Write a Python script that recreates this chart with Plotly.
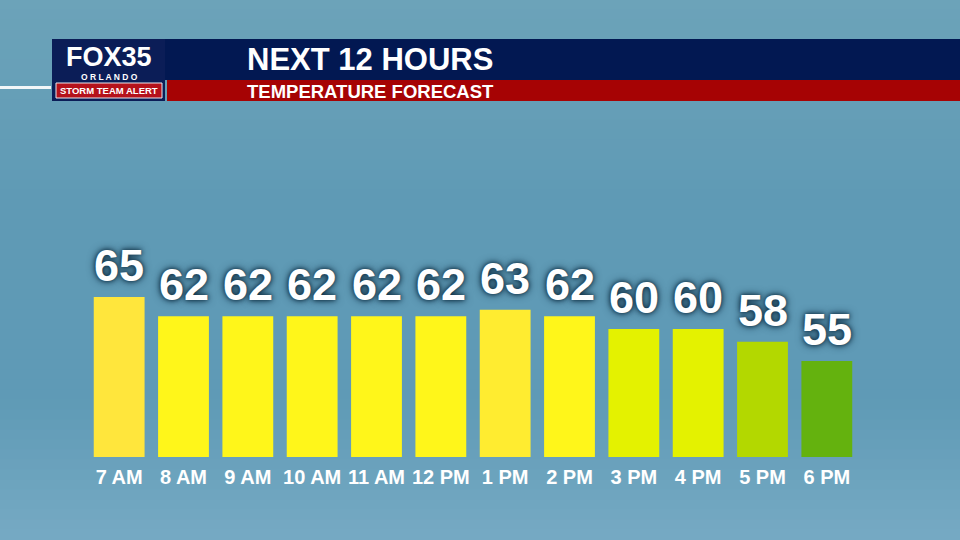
import plotly.graph_objects as go

hours = ["7 AM", "8 AM", "9 AM", "10 AM", "11 AM", "12 PM", "1 PM", "2 PM", "3 PM", "4 PM", "5 PM", "6 PM"]
temps = [65, 62, 62, 62, 62, 62, 63, 62, 60, 60, 58, 55]
bar_colors = ["#FFE63C", "#FFF61A", "#FFF61A", "#FFF61A", "#FFF61A", "#FFF61A",
              "#FFEC30", "#FFF61A", "#E4F200", "#E4F200", "#B3D800", "#64B20E"]

title_text = "NEXT 12 HOURS"
subtitle_text = "TEMPERATURE FORECAST"

layout_w, layout_h = 960, 540
ml, mr, mt, mb = 87, 101, 105, 83
pw = layout_w - ml - mr
ph = layout_h - mt - mb


def px_x(x):
    return (x - ml) / pw


def px_y(y):
    return 1 - (y - mt) / ph


fig = go.Figure()
fig.add_trace(go.Bar(
    x=hours, y=temps,
    marker=dict(color=bar_colors, line=dict(width=0)),
    width=0.79,
    hoverinfo="skip",
))

# value labels
for h, t in zip(hours, temps):
    fig.add_annotation(
        x=h, y=t, xref="x", yref="y", text=str(t), showarrow=False,
        yanchor="bottom", yshift=4,
        font=dict(family="Liberation Sans", size=45, color="white", weight="bold",
                  shadow="0px 0px 4px #0d2c40, 0px 0px 9px #12344a"),
    )

shapes = []

# background vertical gradient (top lighter, middle deeper, bottom frosty)
def lerp(c1, c2, f):
    a = [int(c1[i:i + 2], 16) for i in (1, 3, 5)]
    b = [int(c2[i:i + 2], 16) for i in (1, 3, 5)]
    return "#%02x%02x%02x" % tuple(round(a[k] + (b[k] - a[k]) * f) for k in range(3))

stops = [(0, "#6CA3B9"), (200, "#5F9AB5"), (400, "#5F9AB6"), (540, "#76AAC3")]
step = 10
for y0 in range(0, 540, step):
    yc = y0 + step / 2
    for (ya, ca), (yb, cb) in zip(stops[:-1], stops[1:]):
        if ya <= yc <= yb:
            col = lerp(ca, cb, (yc - ya) / (yb - ya))
            break
    shapes.append(dict(type="rect", xref="paper", yref="paper",
                       x0=px_x(-5), x1=px_x(965), y0=px_y(y0 + step + 0.5), y1=px_y(y0 - 0.5),
                       fillcolor=col, line=dict(width=0), layer="below"))

# header navy band
shapes.append(dict(type="rect", xref="paper", yref="paper",
                   x0=px_x(52), x1=px_x(960), y0=px_y(80), y1=px_y(39),
                   fillcolor="#021852", line=dict(width=0), layer="above"))
# logo box
shapes.append(dict(type="rect", xref="paper", yref="paper",
                   x0=px_x(52), x1=px_x(165), y0=px_y(101), y1=px_y(39),
                   fillcolor="#0B1D57", line=dict(width=0), layer="above"))
# red band
shapes.append(dict(type="rect", xref="paper", yref="paper",
                   x0=px_x(167), x1=px_x(960), y0=px_y(101), y1=px_y(80),
                   fillcolor="#A60304", line=dict(width=0), layer="above"))
# storm team alert red box
shapes.append(dict(type="rect", xref="paper", yref="paper",
                   x0=px_x(56), x1=px_x(162), y0=px_y(98), y1=px_y(83),
                   fillcolor="#B5121B", line=dict(width=1, color="#E8E8F0"), layer="above"))
# white line left
shapes.append(dict(type="line", xref="paper", yref="paper",
                   x0=px_x(0), x1=px_x(51), y0=px_y(87.5), y1=px_y(87.5),
                   line=dict(color="#F2F6F8", width=3), layer="above"))

annos = [
    dict(text="<b>FOX35</b>", x=px_x(108.5), y=px_y(56.5), font=dict(family="Liberation Sans", size=27, color="white")),
    dict(text="<b>O R L A N D O</b>", x=px_x(109), y=px_y(77), font=dict(family="Liberation Sans", size=8.5, color="white")),
    dict(text="<b>STORM TEAM ALERT</b>", x=px_x(109), y=px_y(90.5), font=dict(family="Liberation Sans", size=9.5, color="white")),
    dict(text="<b>" + title_text + "</b>", x=px_x(246), y=px_y(60), xanchor="left",
         font=dict(family="Liberation Sans", size=31, color="white")),
    dict(text="<b>" + subtitle_text + "</b>", x=px_x(246), y=px_y(91), xanchor="left",
         font=dict(family="Liberation Sans", size=18.5, color="white")),
]
for a in annos:
    a.setdefault("xanchor", "center")
    fig.add_annotation(xref="paper", yref="paper", showarrow=False, yanchor="middle",
                       borderpad=0, **a)

fig.update_layout(
    width=layout_w, height=layout_h,
    margin=dict(l=ml, r=mr, t=mt, b=mb),
    paper_bgcolor="#5F9AB5", plot_bgcolor="rgba(0,0,0,0)",
    showlegend=False,
    shapes=shapes,
    bargap=0.21,
    xaxis=dict(range=[-0.5, 11.5], showgrid=False, zeroline=False, showline=False,
               ticks="", ticklabelstandoff=6, fixedrange=True,
               tickfont=dict(family="Liberation Sans", size=20, color="white", weight="bold")),
    yaxis=dict(range=[40, 95], visible=False, showgrid=False, zeroline=False, fixedrange=True),
)

fig.write_html("out.html", config={"displayModeBar": False},
               post_script="document.body.style.margin='0px';document.body.style.overflow='hidden';")
